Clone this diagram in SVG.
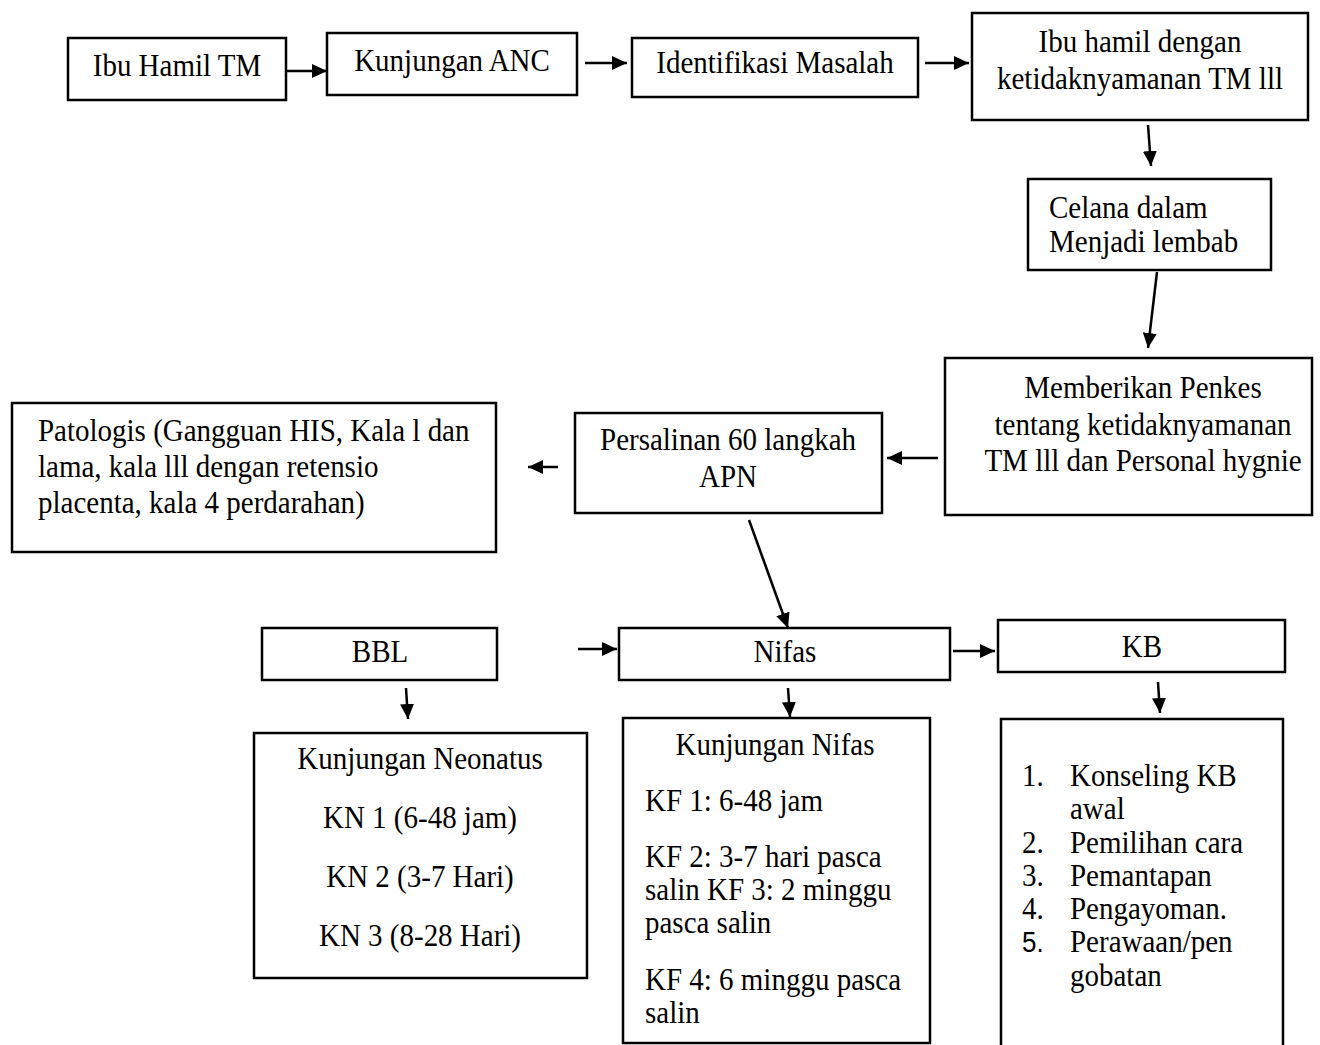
<svg xmlns="http://www.w3.org/2000/svg" width="1320" height="1045" viewBox="0 0 1320 1045">
<style>
.box{fill:#fff;stroke:#000;stroke-width:2.5}
text{font-family:"Liberation Serif","Times New Roman",serif;font-size:29px;fill:#000}
.c{text-anchor:middle}
.sans{font-family:"Liberation Sans",Arial,sans-serif;font-size:26px}
.conn{stroke:#000;stroke-width:2.5;fill:none;marker-end:url(#ah)}
</style>
<defs>
<marker id="ah" markerUnits="userSpaceOnUse" markerWidth="16" markerHeight="14" refX="15" refY="7" orient="auto">
<path d="M0,0 L15,7 L0,14 z" fill="#000"/>
</marker>
</defs>
<rect width="1320" height="1045" fill="#fff"/>
<g id="connectors">
<line class="conn" x1="287" y1="71" x2="327" y2="71"/>
<line class="conn" x1="585" y1="63" x2="627" y2="63"/>
<line class="conn" x1="925" y1="63" x2="969" y2="63"/>
<line class="conn" x1="1148" y1="125" x2="1151" y2="166"/>
<line class="conn" x1="1157" y1="272" x2="1148" y2="348"/>
<line class="conn" x1="938" y1="458" x2="887" y2="458"/>
<line class="conn" x1="558" y1="467" x2="528" y2="467"/>
<line class="conn" x1="749" y1="520" x2="788" y2="628"/>
<line class="conn" x1="578" y1="649" x2="617" y2="649"/>
<line class="conn" x1="953" y1="651" x2="995" y2="651"/>
<line class="conn" x1="406" y1="688" x2="408" y2="719"/>
<line class="conn" x1="788" y1="688" x2="790" y2="717"/>
<line class="conn" x1="1158" y1="682" x2="1160" y2="713"/>
</g>
<g id="n1"><rect class="box" x="68" y="38" width="218" height="62"/><text class="c" transform="translate(177,76) scale(1,1.1)">Ibu Hamil TM</text></g>
<g id="n2"><rect class="box" x="327" y="33" width="250" height="62"/><text class="c" transform="translate(452,71) scale(1,1.1)">Kunjungan ANC</text></g>
<g id="n3"><rect class="box" x="632" y="38" width="286" height="59"/><text class="c" transform="translate(775,73) scale(1,1.1)">Identifikasi Masalah</text></g>
<g id="n4"><rect class="box" x="972" y="13" width="336" height="107"/><text class="c" transform="translate(1140,52) scale(1,1.1)">Ibu hamil dengan</text><text class="c" transform="translate(1140,89) scale(1,1.1)">ketidaknyamanan TM lll</text></g>
<g id="n5"><rect class="box" x="1028" y="179" width="243" height="91"/><text transform="translate(1049,218) scale(1,1.1)">Celana dalam</text><text transform="translate(1049,252) scale(1,1.1)">Menjadi lembab</text></g>
<g id="n6"><rect class="box" x="945" y="358" width="367" height="157"/><text class="c" transform="translate(1143,398) scale(1,1.1)">Memberikan Penkes</text><text class="c" transform="translate(1143,435) scale(1,1.1)">tentang ketidaknyamanan</text><text class="c" transform="translate(1143,471) scale(1,1.1)">TM lll dan Personal hygnie</text></g>
<g id="n7"><rect class="box" x="575" y="413" width="307" height="100"/><text class="c" transform="translate(728,450) scale(1,1.1)">Persalinan 60 langkah</text><text class="c" transform="translate(728,487) scale(1,1.1)">APN</text></g>
<g id="n8"><rect class="box" x="12" y="403" width="484" height="149"/><text transform="translate(38,441) scale(1,1.1)">Patologis (Gangguan HIS, Kala l dan</text><text transform="translate(38,477) scale(1,1.1)">lama, kala lll dengan retensio</text><text transform="translate(38,513) scale(1,1.1)">placenta, kala 4 perdarahan)</text></g>
<g id="n9"><rect class="box" x="262" y="628" width="235" height="52"/><text class="c" transform="translate(380,662) scale(1,1.1)">BBL</text></g>
<g id="n10"><rect class="box" x="619" y="628" width="331" height="52"/><text class="c" transform="translate(785,662) scale(1,1.1)">Nifas</text></g>
<g id="n11"><rect class="box" x="998" y="620" width="287" height="52"/><text class="c" transform="translate(1142,657) scale(1,1.1)">KB</text></g>
<g id="n12"><rect class="box" x="254" y="733" width="333" height="245"/>
<text class="c" transform="translate(420,769) scale(1,1.1)">Kunjungan Neonatus</text>
<text class="c" transform="translate(420,828) scale(1,1.1)">KN 1 (6-48 jam)</text>
<text class="c" transform="translate(420,887) scale(1,1.1)">KN 2 (3-7 Hari)</text>
<text class="c" transform="translate(420,946) scale(1,1.1)">KN 3 (8-28 Hari)</text></g>
<g id="n13"><rect class="box" x="623" y="718" width="307" height="325"/>
<text class="c" transform="translate(775,755) scale(1,1.1)">Kunjungan Nifas</text>
<text transform="translate(645,811) scale(1,1.1)">KF 1: 6-48 jam</text>
<text transform="translate(645,867) scale(1,1.1)">KF 2: 3-7 hari pasca</text>
<text transform="translate(645,900) scale(1,1.1)">salin KF 3: 2 minggu</text>
<text transform="translate(645,933) scale(1,1.1)">pasca salin</text>
<text transform="translate(645,990) scale(1,1.1)">KF 4: 6 minggu pasca</text>
<text transform="translate(645,1023) scale(1,1.1)">salin</text></g>
<g id="n14"><rect class="box" x="1001" y="719" width="282" height="340"/>
<text transform="translate(1022,786) scale(1,1.1)">1.</text><text transform="translate(1070,786) scale(1,1.1)">Konseling KB</text>
<text transform="translate(1070,819) scale(1,1.1)">awal</text>
<text transform="translate(1022,853) scale(1,1.1)">2.</text><text transform="translate(1070,853) scale(1,1.1)">Pemilihan cara</text>
<text transform="translate(1022,886) scale(1,1.1)">3.</text><text transform="translate(1070,886) scale(1,1.1)">Pemantapan</text>
<text transform="translate(1022,919) scale(1,1.1)">4.</text><text transform="translate(1070,919) scale(1,1.1)">Pengayoman.</text>
<text class="sans" transform="translate(1022,952) scale(1,1.1)">5.</text><text transform="translate(1070,952) scale(1,1.1)"> Perawaan/pen</text>
<text transform="translate(1070,986) scale(1,1.1)">gobatan</text></g>
</svg>
